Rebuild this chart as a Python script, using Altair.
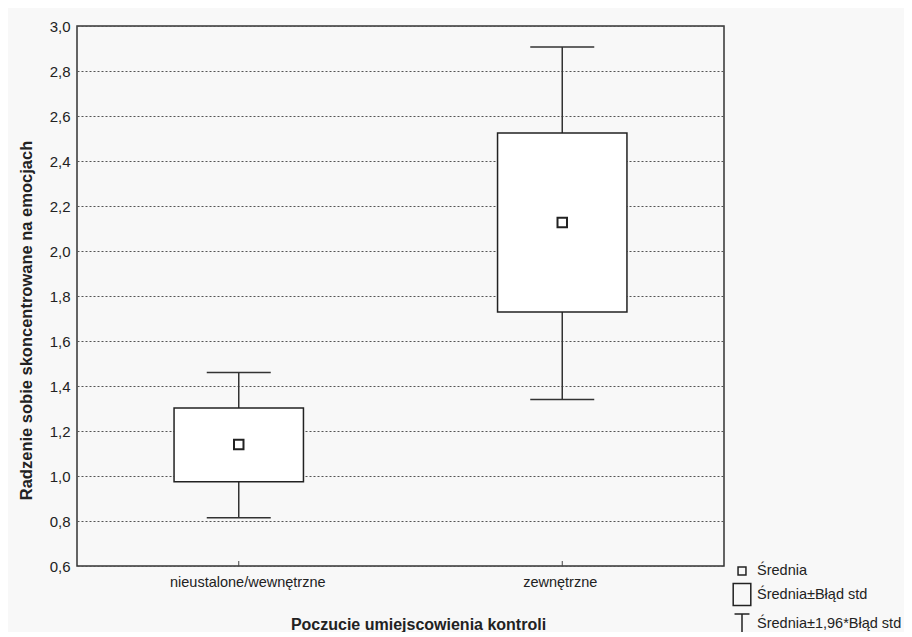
import altair as alt
import pandas as pd

categories = ["nieustalone/wewnętrzne", "zewnętrzne"]
means = [1.14, 2.127]
se_low = [0.975, 1.729]
se_high = [1.302, 2.524]
ci_low = [0.815, 1.340]
ci_high = [1.460, 2.907]

legend_labels = ["Średnia", "Średnia±Błąd  std", "Średnia±1,96*Błąd std"]

df = pd.DataFrame({
    "cat": categories, "mean": means,
    "se_lo": se_low, "se_hi": se_high,
    "ci_lo": ci_low, "ci_hi": ci_high,
})
leg_df = pd.DataFrame({"leg": legend_labels, "v": [1, 1, 1]})

FONT = "Liberation Sans"
INK = "#222222"

x_enc = alt.X("cat:N", sort=categories,
              scale=alt.Scale(paddingInner=0.6, paddingOuter=0.3),
              axis=alt.Axis(title="Poczucie umiejscowienia kontroli", labelAngle=0,
                            ticks=False, domain=False, grid=False,
                            labelPadding=9, titleX=341, titleY=50,
                            labelOffset={"condition": {"test": f"datum.value == '{categories[0]}'",
                                                       "value": 9},
                                         "value": -2},
                            labelFontSize=14.5, titleFontSize=16, titleFontWeight="bold"))
y_scale = alt.Scale(domain=[0.6, 3.0], nice=False, zero=False)
y_axis = alt.Axis(title="Radzenie sobie skoncentrowane na emocjach",
                  values=[0.6, 0.8, 1.0, 1.2, 1.4, 1.6, 1.8, 2.0, 2.2, 2.4, 2.6, 2.8, 3.0],
                  labelExpr="replace(format(datum.value, '.1f'), '.', ',')",
                  ticks=False, domain=False, grid=True,
                  gridColor="#555555", gridDash=[2, 2], gridWidth=1,
                  labelPadding=7, titlePadding=15, titleY=294,
                  labelFontSize=15, titleFontSize=16.5, titleFontWeight="bold")

base = alt.Chart(df)

whisk = base.mark_rule(color="#333333", strokeWidth=1.5).encode(
    x=x_enc,
    y=alt.Y("ci_lo:Q", scale=y_scale, axis=y_axis),
    y2="ci_hi:Q",
)
cap_hi = base.mark_tick(color="#333333", thickness=1.5, size=64, opacity=1).encode(
    x=alt.X("cat:N", sort=categories), y="ci_hi:Q")
cap_lo = base.mark_tick(color="#333333", thickness=1.5, size=64, opacity=1).encode(
    x=alt.X("cat:N", sort=categories), y="ci_lo:Q")
box = base.mark_bar(fill="white", stroke="#222222", strokeWidth=1.5).encode(
    x=alt.X("cat:N", sort=categories), y="se_lo:Q", y2="se_hi:Q")
mean_pt = base.mark_point(shape="square", filled=False, color="#222222",
                          strokeWidth=2, size=90, opacity=1).encode(
    x=alt.X("cat:N", sort=categories), y="mean:Q")
# small inward axis ticks at the category positions (axis decoration)
xticks = base.mark_rule(color="#444444", strokeWidth=1).encode(
    x=alt.X("cat:N", sort=categories), y=alt.value(540), y2=alt.value(535))

legend_layer = alt.Chart(leg_df).transform_filter("false").mark_point(
    filled=False, color="#222222", opacity=1).encode(
    shape=alt.Shape("leg:N", sort=legend_labels,
                    scale=alt.Scale(domain=legend_labels,
                                    range=["M-0.36,-0.36H0.36V0.36H-0.36Z",
                                           "M-0.8,-1H0.8V1H-0.8Z",
                                           "M-0.68,-0.9H0.68M0,-0.9V0.9M-0.68,0.9H0.68"]),
                    legend=alt.Legend(title=None, orient="none", legendX=653, legendY=533,
                                      labelFont=FONT, labelFontSize=14.5, labelColor=INK,
                                      symbolSize=484,
                                      symbolStrokeColor="#222222", symbolFillColor="transparent",
                                      symbolStrokeWidth=1.5, symbolOpacity=1,
                                      labelOffset=3, rowPadding=2.5)),
)

chart = alt.layer(whisk, cap_hi, cap_lo, box, mean_pt, xticks, legend_layer).properties(
    width=647, height=540,
    autosize=alt.AutoSizeParams(type="none"),
    padding={"left": 69, "top": 18, "right": 180, "bottom": 66},
    background="#f8f8f8",
).configure_view(
    fill="white", stroke="#333333", strokeWidth=1.5
).configure_axis(
    labelFont=FONT, titleFont=FONT, labelColor=INK, titleColor=INK
)

chart.save("out.html", embed_options={"renderer": "svg", "actions": False})
